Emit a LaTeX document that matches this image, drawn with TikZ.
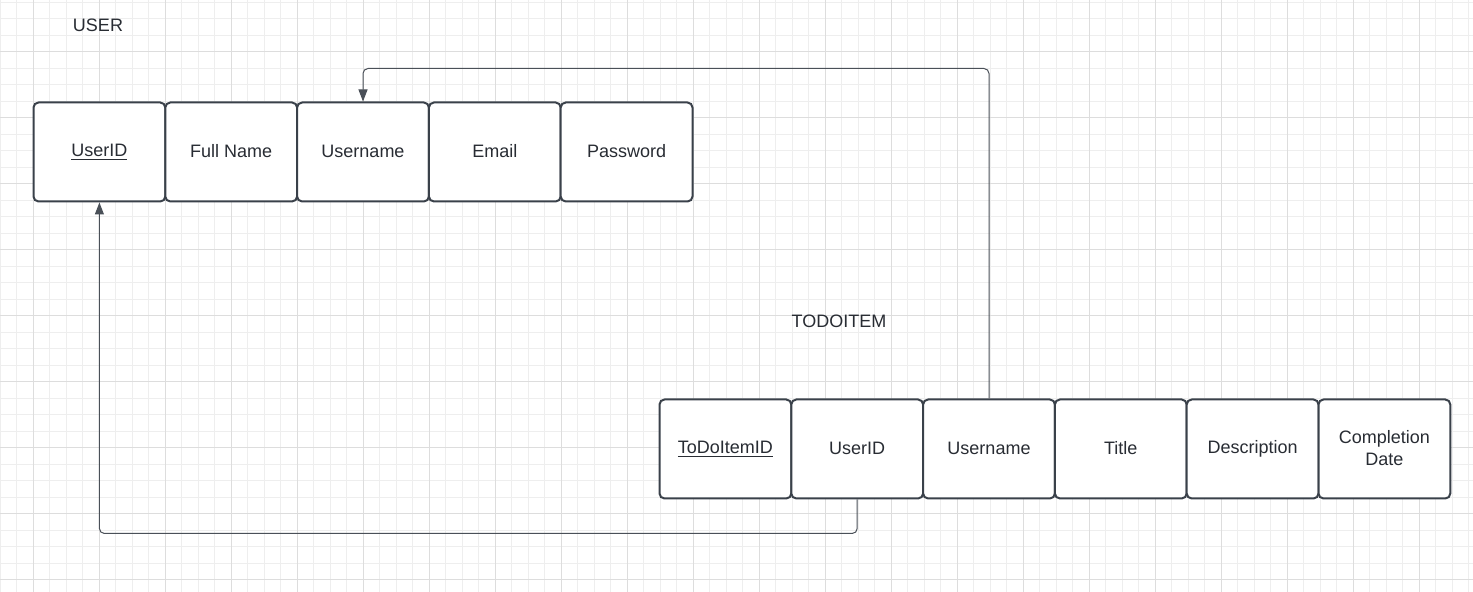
\documentclass[tikz,border=0pt]{standalone}
\usepackage{fontspec}
\setmainfont{Liberation Sans}
\usetikzlibrary{arrows.meta}
\definecolor{edge}{HTML}{3A414A}
\definecolor{linkc}{HTML}{4A5058}
\definecolor{minorg}{HTML}{EEEEEE}
\definecolor{majorg}{HTML}{DDDDDD}
\definecolor{txt}{HTML}{282C33}
\begin{document}
\begin{tikzpicture}[x=0.5pt,y=-0.5pt,
 attr/.style={draw=edge, line width=1pt, rounded corners=2.5pt, fill=white, minimum width=65.9pt, minimum height=49.5pt, inner sep=0pt, text=txt, font=\fontsize{9}{11}\selectfont, align=center, anchor=north west},
 link/.style={draw=linkc, line width=0.5pt, rounded corners=2.5pt, -{Triangle[width=4.5pt,length=6pt]}},
 title/.style={text=txt, font=\fontsize{9}{11}\selectfont}]
\useasboundingbox (0,0) rectangle (1473,592);
\fill[white] (0,0) rectangle (1473,592);
% grid
\foreach \i in {0,...,89} { \draw[minorg, line width=0.5pt] (\i*16.5,0) -- (\i*16.5,592); }
\foreach \j in {0,...,35} { \draw[minorg, line width=0.5pt] (0,2.2+\j*16.5) -- (1473,2.2+\j*16.5); }
\foreach \i in {0,...,22} { \draw[majorg, line width=0.5pt] (33+\i*66,0) -- (33+\i*66,592); }
\foreach \j in {0,...,8} { \draw[majorg, line width=0.5pt] (0,51.7+\j*66) -- (1473,51.7+\j*66); }
% titles
\node[title] (tu) at (98,25) {USER};
\node[title] (tt) at (839,321) {TODOITEM};
% USER attributes
\node[attr] (u1) at (32.5,101.5) {\raisebox{1pt}{\underline{UserID}}};
\node[attr] (u2) at (164.3,101.5) {\raisebox{1pt}{Full Name}};
\node[attr] (u3) at (296.1,101.5) {\raisebox{1pt}{Username}};
\node[attr] (u4) at (427.9,101.5) {\raisebox{1pt}{Email}};
\node[attr] (u5) at (559.7,101.5) {\raisebox{1pt}{Password}};
% TODOITEM attributes
\node[attr] (t1) at (658.5,398.5) {\raisebox{1pt}{\underline{ToDoItemID}}};
\node[attr] (t2) at (790.3,398.5) {\raisebox{1pt}{UserID}};
\node[attr] (t3) at (922.1,398.5) {\raisebox{1pt}{Username}};
\node[attr] (t4) at (1053.9,398.5) {\raisebox{1pt}{Title}};
\node[attr] (t5) at (1185.7,398.5) {\raisebox{1pt}{Description}};
\node[attr] (t6) at (1317.5,398.5) {\raisebox{1pt}{\shortstack{Completion\\Date}}};
% links
\draw[link] (t2.south) -- ++(0,34) -| (u1.south);
\draw[link] (t3.north) -- ++(0,-330) -| (u3.north);
\end{tikzpicture}
\end{document}
